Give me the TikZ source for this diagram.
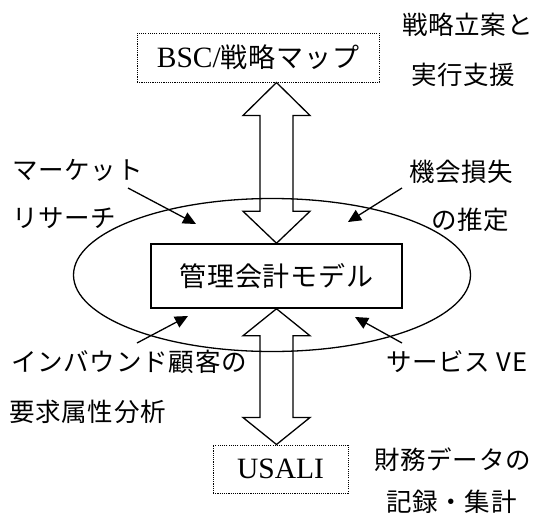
\documentclass[tikz,border=0pt]{standalone}
\usepackage{fontspec}
\setmainfont{Liberation Serif}
\newfontfamily\jp[LetterSpace=3]{Noto Sans CJK JP}
\usetikzlibrary{shapes.geometric,arrows.meta,calc}
\begin{document}
\begin{tikzpicture}[x=1pt,y=-1pt,
  lbl/.style={anchor=west,inner sep=0pt,font=\jp\fontsize{25.5}{30}\selectfont},
  dotbox/.style={draw,line width=1pt,dash pattern=on 1.1pt off 1.1pt,inner sep=0pt},
  blockarrow/.style={draw,line width=1.3pt,line join=miter},
  ptr/.style={line width=1.3pt,-{Triangle[length=13pt,width=12pt]}}]
\useasboundingbox (0,0) rectangle (542,520);
% main shapes
\node[draw,ellipse,line width=1.3pt,minimum width=397pt,minimum height=153pt,inner sep=0pt] (ell) at (272,275) {};
\node[draw,line width=1.5pt,minimum width=251pt,minimum height=64pt,inner sep=0pt] (model) at (276.5,276)
  {\jp\fontsize{27}{32}\selectfont 管理会計モデル};
\node[dotbox,minimum width=242pt,minimum height=49pt] (bsc) at (258,57.5)
  {\fontsize{29.5}{34}\selectfont BSC/{\jp\fontsize{27}{32}\selectfont 戦略マップ}};
\node[dotbox,minimum width=135pt,minimum height=48pt] (usali) at (280.5,469)
  {\fontsize{29.5}{34}\selectfont USALI\hspace{14pt}};
% block double arrows
\draw[blockarrow] let \p1=(bsc.south), \p2=(model.north) in
  (\x2,\y1) -- (\x2+33.5pt,\y1-33pt) -- (\x2+16.5pt,\y1-33pt) -- (\x2+16.5pt,\y2+32pt)
  -- (\x2+33.5pt,\y2+32pt) -- (\x2,\y2) -- (\x2-33.5pt,\y2+32pt) -- (\x2-16.5pt,\y2+32pt)
  -- (\x2-16.5pt,\y1-33pt) -- (\x2-33.5pt,\y1-33pt) -- cycle;
\draw[blockarrow] let \p1=(model.south), \p2=(usali.north) in
  (\x1,\y1) -- (\x1+33.5pt,\y1-27pt) -- (\x1+16.5pt,\y1-27pt) -- (\x1+16.5pt,\y2+27pt)
  -- (\x1+33.5pt,\y2+27pt) -- (\x1,\y2) -- (\x1-33.5pt,\y2+27pt) -- (\x1-16.5pt,\y2+27pt)
  -- (\x1-16.5pt,\y1-27pt) -- (\x1-33.5pt,\y1-27pt) -- cycle;
% labels
\node[lbl] (l1a) at (402,25) {戦略立案と};
\node[lbl] (l1b) at (411,75) {実行支援};
\node[lbl] (l2a) at (12,170) {マーケット};
\node[lbl] (l2b) at (12,218) {リサーチ};
\node[lbl] (l3a) at (409,172) {機会損失};
\node[lbl] (l3b) at (431,220) {の推定};
\node[lbl] (l4a) at (11,362) {インバウンド顧客の};
\node[lbl] (l4b) at (9,412) {要求属性分析};
\node[lbl] (l5) at (386,362) {サービス VE};
\node[lbl] (l6a) at (374,460) {財務データの};
\node[lbl] (l6b) at (386,502) {記録・集計};
% small arrows
\coordinate (a1) at (128,188); \coordinate (a1t) at (196,224);
\coordinate (a2) at (402,188); \coordinate (a2t) at (348,222);
\coordinate (a3) at (137,343); \coordinate (a3t) at (188,316);
\coordinate (a4) at (402,343); \coordinate (a4t) at (355,317);
\draw[ptr] (a1) -- (a1t);
\draw[ptr] (a2) -- (a2t);
\draw[ptr] (a3) -- (a3t);
\draw[ptr] (a4) -- (a4t);
\end{tikzpicture}
\end{document}
